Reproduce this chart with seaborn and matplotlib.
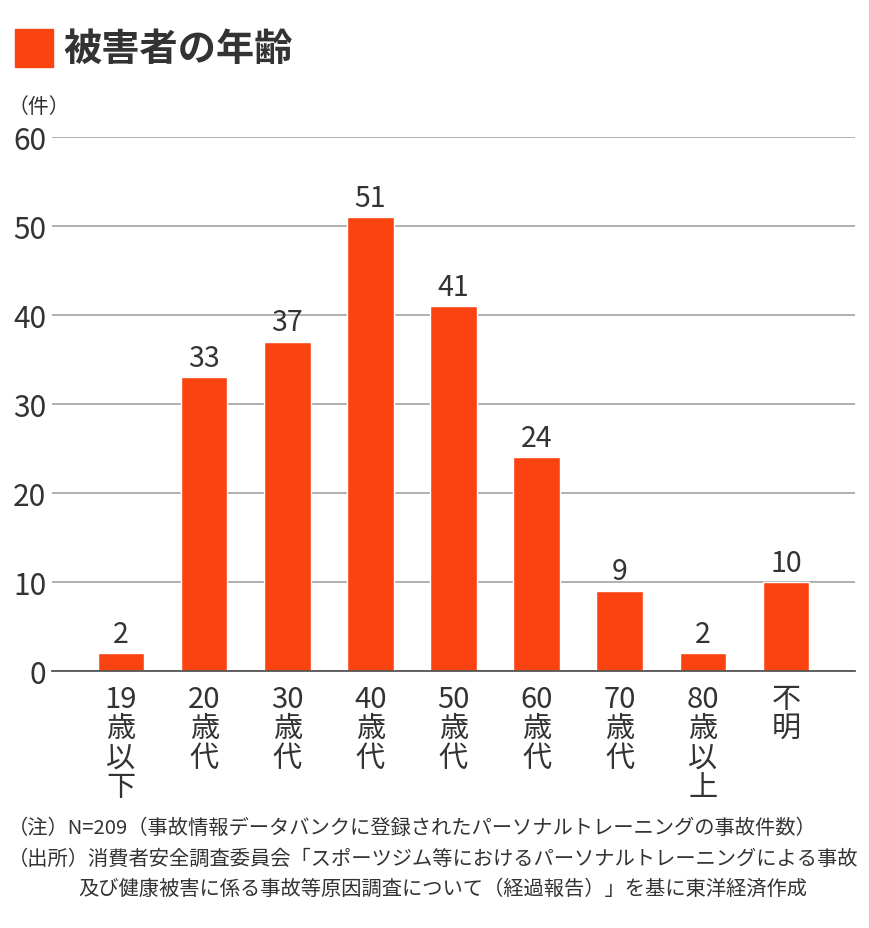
import matplotlib
matplotlib.use("Agg")
import matplotlib.pyplot as plt
import pandas as pd
import seaborn as sns
from matplotlib.patches import Rectangle

# Data
age_groups = ["19歳以下", "20歳代", "30歳代", "40歳代", "50歳代", "60歳代", "70歳代", "80歳以上", "不明"]
tick_labels = ["19\n歳\n以\n下", "20\n歳\n代", "30\n歳\n代", "40\n歳\n代", "50\n歳\n代",
               "60\n歳\n代", "70\n歳\n代", "80\n歳\n以\n上", "不\n明"]
counts = [2, 33, 37, 51, 41, 24, 9, 2, 10]
y_ticks = [0, 10, 20, 30, 40, 50, 60]

title = "被害者の年齢"
unit_label = "（件）"
note_lines = [
    "（注）N=209（事故情報データバンクに登録されたパーソナルトレーニングの事故件数）",
    "（出所）消費者安全調査委員会「スポーツジム等におけるパーソナルトレーニングによる事故",
    "及び健康被害に係る事故等原因調査について（経過報告）」を基に東洋経済作成",
]

BAR_COLOR = "#FB4211"
TEXT_COLOR = "#333333"

sns.set_theme(style="white")
plt.rcParams["font.family"] = ["Noto Sans CJK JP", "DejaVu Sans"]

df = pd.DataFrame({"age": age_groups, "count": counts})

W, H = 870, 929
fig = plt.figure(figsize=(W / 100, H / 100), dpi=100)
ax = fig.add_axes([52 / W, 1 - 672 / H, (855 - 52) / W, (672 - 138) / H])

sns.barplot(data=df, x="age", y="count", color=BAR_COLOR, width=0.56,
            saturation=1, ax=ax, zorder=3)

for i, v in enumerate(counts):
    ax.text(i, v + 0.5, str(v), ha="center", va="bottom", fontsize=20.5,
            color=TEXT_COLOR, zorder=4)

ax.set_xlim(-0.83, len(counts) - 1 + 0.83)
ax.set_ylim(0, 60)
ax.set_yticks(y_ticks)
ax.set_yticklabels([str(t) for t in y_ticks], fontsize=21.5, color=TEXT_COLOR)
ax.set_xticks(range(len(tick_labels)))
ax.set_xticklabels(tick_labels, fontsize=21, color=TEXT_COLOR, linespacing=0.98, va="top")
ax.tick_params(axis="y", length=0, pad=4)
ax.tick_params(axis="x", length=0, pad=9)
ax.set_xlabel("")
ax.set_ylabel("")

ax.grid(axis="y", color="#9a9a9a", linewidth=1.1, zorder=0)
ax.grid(axis="x", visible=False)
for side in ["top", "right", "left"]:
    ax.spines[side].set_visible(False)
ax.spines["bottom"].set_color("#555555")
ax.spines["bottom"].set_linewidth(1.3)
ax.spines["bottom"].set_zorder(5)

# Title with colored square
fig.patches.append(Rectangle((15 / W, 1 - 68 / H), 38 / W, 38 / H,
                             transform=fig.transFigure, color=BAR_COLOR))
fig.text(63 / W, 1 - 49 / H, title, fontsize=27.5, fontweight="bold",
         color=TEXT_COLOR, va="center", ha="left")

fig.text(8 / W, 1 - 107 / H, unit_label, fontsize=15, color=TEXT_COLOR,
         va="center", ha="left")

# Footnotes
fig.text(8 / W, 1 - 828 / H, note_lines[0], fontsize=14.6, color=TEXT_COLOR, va="center")
fig.text(8 / W, 1 - 859 / H, note_lines[1], fontsize=14.6, color=TEXT_COLOR, va="center")
fig.text(78 / W, 1 - 889 / H, note_lines[2], fontsize=14.6, color=TEXT_COLOR, va="center")

fig.savefig("out.png", dpi=100, facecolor="white")
